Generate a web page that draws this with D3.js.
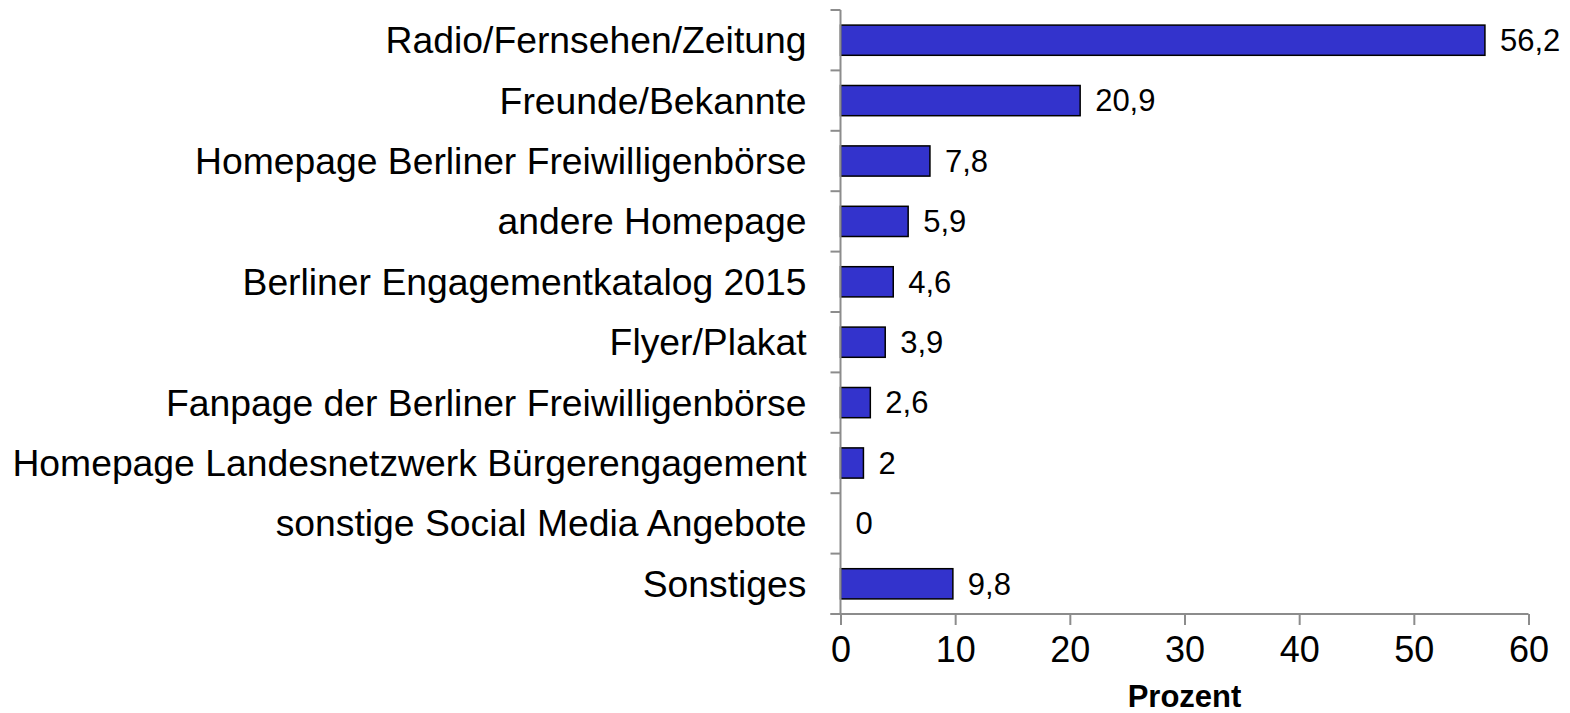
<!DOCTYPE html>
<html lang="de">
<head>
  <meta charset="UTF-8">
  <title>Prozent</title>
  <script src="https://d3js.org/d3.v7.min.js"></script>
  <style>
    body { margin: 0; background: #fff; font-family: "Liberation Sans", Arial, sans-serif; }
    .axis path, .axis line { stroke: #8c8c8c; stroke-width: 2px; }
    .cat-label { font-size: 37.3px; fill: #000; }
    .tick text { font-size: 36px; fill: #000; }
    .value-label { font-size: 31px; fill: #000; }
    .axis-title { font-size: 31px; font-weight: bold; }
  </style>
</head>
<body>
  <svg id="chart" width="1570" height="713"></svg>
  <script>
    // data
    const categories = [
      "Radio/Fernsehen/Zeitung",
      "Freunde/Bekannte",
      "Homepage Berliner Freiwilligenbörse",
      "andere Homepage",
      "Berliner Engagementkatalog 2015",
      "Flyer/Plakat",
      "Fanpage der Berliner Freiwilligenbörse",
      "Homepage Landesnetzwerk Bürgerengagement",
      "sonstige Social Media Angebote",
      "Sonstiges"
    ];
    const values = [56.2, 20.9, 7.8, 5.9, 4.6, 3.9, 2.6, 2, 0, 9.8];
    const xTicks = [0, 10, 20, 30, 40, 50, 60];

    const margin = { top: 10, left: 840.5, right: 41.5, bottom: 99 };
    const width = 1570 - margin.left - margin.right,
          height = 713 - margin.top - margin.bottom;

    const svg = d3.select("#chart");
    const g = svg.append("g").attr("transform", `translate(${margin.left},${margin.top})`);

    const x = d3.scaleLinear().domain([0, 60]).range([0, width]);
    const y = d3.scaleBand().domain(categories).range([0, height]).paddingInner(0.5).paddingOuter(0.25);

    // bars
    g.selectAll(".bar")
      .data(values)
      .enter()
      .append("rect")
      .attr("class", "bar")
      .attr("x", 0)
      .attr("y", (d, i) => y(categories[i]))
      .attr("width", d => x(d))
      .attr("height", y.bandwidth())
      .attr("fill", "#3333cc")
      .attr("stroke", d => d > 0 ? "#000" : "none")
      .attr("stroke-width", 1.5);

    // value labels
    g.selectAll(".value-label")
      .data(values)
      .enter()
      .append("text")
      .attr("class", "value-label")
      .attr("x", d => x(d) + 15)
      .attr("y", (d, i) => y(categories[i]) + y.bandwidth() / 2)
      .attr("dy", "0.35em")
      .text(d => String(d).replace(".", ","));

    // y axis line with separator ticks
    const yAxis = g.append("g").attr("class", "axis");
    yAxis.append("line").attr("x1", 0).attr("x2", 0).attr("y1", 0).attr("y2", height);
    const step = height / categories.length;
    yAxis.selectAll(".sep")
      .data(d3.range(categories.length + 1))
      .enter()
      .append("line")
      .attr("x1", -10).attr("x2", 0)
      .attr("y1", d => d * step).attr("y2", d => d * step);

    // category labels
    g.selectAll(".cat-label")
      .data(categories)
      .enter()
      .append("text")
      .attr("class", "cat-label")
      .attr("x", -34)
      .attr("y", d => y(d) + y.bandwidth() / 2)
      .attr("dy", "0.35em")
      .attr("text-anchor", "end")
      .text(d => d);

    // x axis
    g.append("g")
      .attr("class", "axis")
      .attr("transform", `translate(0,${height})`)
      .call(d3.axisBottom(x).tickValues(xTicks).tickSize(11).tickPadding(11).tickSizeOuter(0))
      .call(a => a.select(".domain").attr("d", `M-10,0H${width}`))
      .call(a => a.selectAll("text").attr("font-family", null).attr("font-size", null));

    g.append("text")
      .attr("class", "axis-title")
      .attr("x", width / 2)
      .attr("y", height + 93)
      .attr("text-anchor", "middle")
      .text("Prozent");
  </script>
</body>
</html>
